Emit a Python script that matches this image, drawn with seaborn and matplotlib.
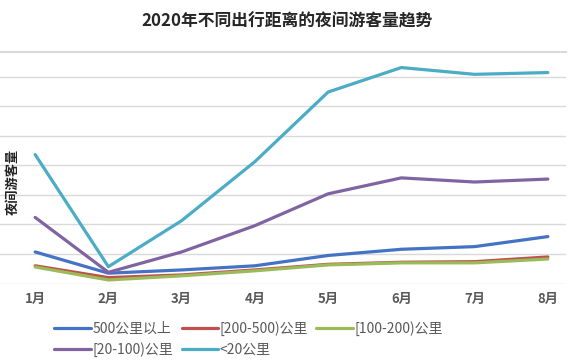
import pandas as pd
import numpy as np
import matplotlib
matplotlib.use("Agg")
import matplotlib.pyplot as plt
import seaborn as sns

# Данные (условные единицы)
months = ['1月', '2月', '3月', '4月', '5月', '6月', '7月', '8月']
series_names = ['500公里以上', '[200-500)公里', '[100-200)公里', '[20-100)公里', '<20公里']
v_500 = [1.07, 0.35, 0.46, 0.60, 0.95, 1.16, 1.25, 1.59]
v_200_500 = [0.60, 0.20, 0.29, 0.46, 0.65, 0.72, 0.74, 0.90]
v_100_200 = [0.56, 0.12, 0.26, 0.43, 0.63, 0.70, 0.70, 0.83]
v_20_100 = [2.24, 0.38, 1.07, 1.96, 3.04, 3.58, 3.44, 3.54]
v_20 = [4.37, 0.57, 2.13, 4.13, 6.49, 7.32, 7.09, 7.15]
colors = ['#4472c4', '#c0504d', '#9bbb59', '#8064a2', '#4bacc6']

df = pd.DataFrame({
    '月份': months * 5,
    'x': list(range(len(months))) * 5,
    '距离': np.repeat(series_names, len(months)),
    '游客量': v_500 + v_200_500 + v_100_200 + v_20_100 + v_20,
})

sns.set_style('white')
plt.rcParams['font.family'] = ['Noto Sans CJK SC', 'DejaVu Sans']

fig = plt.figure(figsize=(5.75, 3.63), dpi=100)
ax = fig.add_axes([0.0, 0.219, 0.984, 0.638])

sns.lineplot(data=df, x='x', y='游客量', hue='距离', hue_order=series_names,
             palette=colors, linewidth=2.3, ax=ax, legend=False)

ax.set_xlim(-0.48, 7.245)
ax.set_ylim(0, 7.85)
ax.set_yticks(np.arange(0, 8, 1))
ax.set_yticklabels([])
ax.tick_params(axis='y', length=0)
ax.yaxis.grid(True, color='#d9d9d9', linewidth=1.0)
ax.set_axisbelow(True)
for s in ['left', 'bottom', 'right']:
    ax.spines[s].set_visible(False)
ax.spines['top'].set_color('#d9d9d9')
ax.spines['top'].set_linewidth(1.5)

ax.set_xticks(range(len(months)))
ax.set_xticklabels(months, fontsize=9.5, color='#595959', fontweight='bold')
ax.tick_params(axis='x', length=0, pad=6)
ax.set_xlabel('')
ax.set_ylabel('')

fig.text(0.022, 0.5, '夜间游客量', rotation=90, fontsize=9.5, fontweight='bold',
         ha='center', va='center', color='#222222')

fig.suptitle('2020年不同出行距离的夜间游客量趋势', x=0.5, y=0.965,
             fontsize=12.1, fontweight='bold')

# порядок по строкам: легенда заполняется по столбцам
order = [0, 3, 1, 4, 2]
handles = [plt.Line2D([], [], color=colors[i], linewidth=2.3) for i in order]
labels = [series_names[i] for i in order]
fig.legend(handles, labels, loc='upper left', bbox_to_anchor=(0.085, 0.13),
           ncol=3, frameon=False, fontsize=10, handlelength=2.6,
           handletextpad=0.15, columnspacing=0.6, labelspacing=0.45,
           labelcolor='#595959', borderaxespad=0)

fig.savefig('out.png', dpi=100)
